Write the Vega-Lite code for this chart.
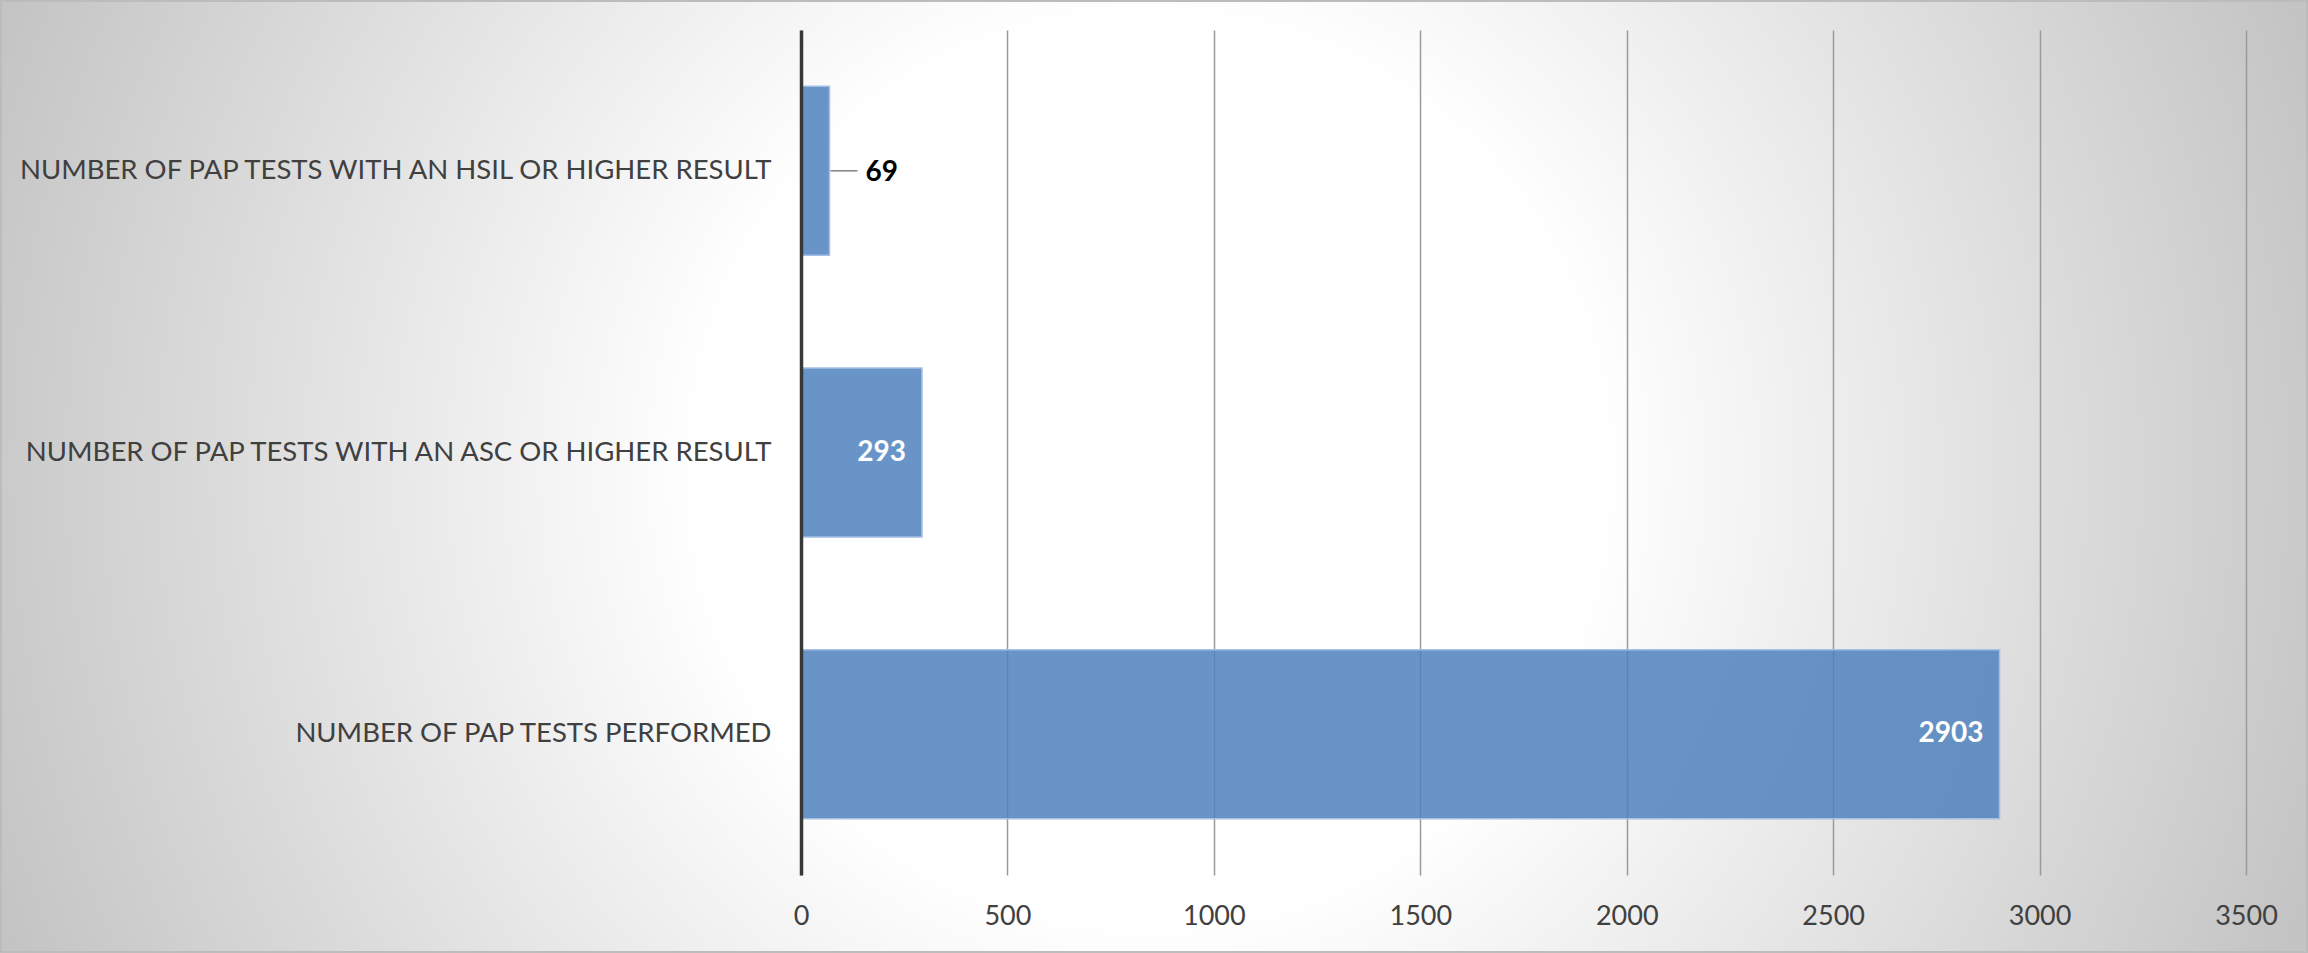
{
  "$schema": "https://vega.github.io/schema/vega-lite/v6.json",
  "width": 2308,
  "height": 953,
  "autosize": {"type": "none"},
  "padding": 0,
  "data": {
    "values": [
      {"label": "NUMBER OF PAP TESTS WITH AN HSIL OR HIGHER RESULT", "value": 69},
      {"label": "NUMBER OF PAP TESTS WITH AN ASC OR HIGHER RESULT", "value": 293},
      {"label": "NUMBER OF PAP TESTS PERFORMED", "value": 2903}
    ]
  },
  "config": {
    "view": {
      "fill": {
        "gradient": "radial",
        "x1": 0.498, "y1": 0.497, "r1": 0,
        "x2": 0.498, "y2": 0.497, "r2": 0.533,
        "stops": [
          {"offset": 0, "color": "#ffffff"},
          {"offset": 0.366, "color": "#ffffff"},
          {"offset": 1, "color": "#c4c4c4"}
        ]
      },
      "stroke": "#bcbcbc",
      "strokeWidth": 4
    },
    "axis": {"labelFont": "Lato", "labelColor": "#404040", "title": null},
    "text": {"font": "Lato"}
  },
  "encoding": {
    "y": {
      "field": "label",
      "type": "nominal",
      "sort": null,
      "scale": {"range": [30, 875], "paddingInner": 0.4, "paddingOuter": 0.2},
      "axis": {
        "orient": "left",
        "offset": -801,
        "domain": true,
        "domainColor": "#383838",
        "domainWidth": 3.5,
        "ticks": false,
        "grid": false,
        "labelPadding": 30,
        "labelLimit": 1000,
        "labelFontSize": 27.5,
        "labelAlign": "right",
        "zindex": 1
      }
    }
  },
  "layer": [
    {
      "mark": {"type": "bar", "fill": "#4F81BD", "fillOpacity": 0.85, "stroke": "#a3bfe3", "strokeWidth": 1.5},
      "encoding": {
        "x": {
          "field": "value",
          "type": "quantitative",
          "scale": {"domain": [0, 3500], "range": [801, 2246], "nice": false},
          "axis": {
            "orient": "top",
            "values": [0, 500, 1000, 1500, 2000, 2500, 3000, 3500],
            "grid": true,
            "gridColor": "#9a9a9a",
            "gridWidth": 1.5,
            "domain": false,
            "ticks": false,
            "labels": false
          }
        }
      }
    },
    {
      "transform": [{"filter": "datum.value >= 200"}],
      "mark": {"type": "text", "align": "right", "baseline": "middle", "dx": -16, "fontSize": 28, "fontWeight": "bold", "color": "#ffffff"},
      "encoding": {
        "text": {"field": "value", "type": "quantitative", "format": "d"},
        "x": {
          "field": "value",
          "type": "quantitative",
          "axis": {
            "orient": "bottom",
            "offset": -78,
            "values": [0, 500, 1000, 1500, 2000, 2500, 3000, 3500],
            "format": "d",
            "grid": false,
            "domain": false,
            "ticks": false,
            "labelFlush": false,
            "labelFontSize": 27,
            "labelPadding": 41,
            "labelBaseline": "middle"
          }
        }
      }
    },
    {
      "transform": [{"filter": "datum.value < 200"}],
      "mark": {"type": "text", "align": "left", "baseline": "middle", "dx": 36, "dy": 2, "fontSize": 28, "fontWeight": "bold", "color": "#000000"},
      "encoding": {
        "text": {"field": "value", "type": "quantitative", "format": "d"},
        "x": {"field": "value", "type": "quantitative", "axis": null}
      }
    },
    {
      "transform": [{"filter": "datum.value < 200"}],
      "mark": {"type": "rule", "color": "#808080", "strokeWidth": 1.5, "xOffset": 1, "x2Offset": 28},
      "encoding": {
        "x": {"field": "value", "type": "quantitative", "axis": null},
        "x2": {"field": "value"}
      }
    }
  ]
}
